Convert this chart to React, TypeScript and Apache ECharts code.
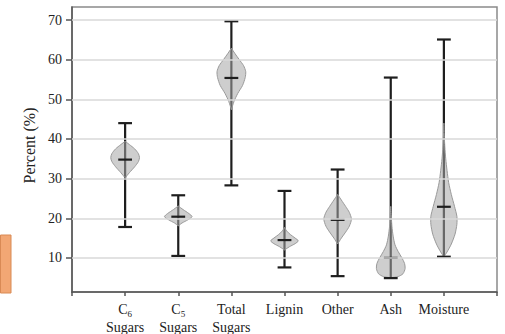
import React, { useEffect, useRef } from "react";
import * as echarts from "echarts";

const categories = ["C6 Sugars", "C5 Sugars", "Total Sugars", "Lignin", "Other", "Ash", "Moisture"];
const categoryLabels = [
  "{n|C}{s|6}\n{n|Sugars}",
  "{n|C}{s|5}\n{n|Sugars}",
  "{n|Total}\n{n|Sugars}",
  "{n|Lignin}",
  "{n|Other}",
  "{n|Ash}",
  "{n|Moisture}",
];
const yTicks = [10, 20, 30, 40, 50, 60, 70];
const mins = [17.8, 10.5, 28.3, 7.6, 5.4, 4.9, 10.3];
const maxs = [44.0, 25.8, 69.7, 26.9, 32.3, 55.5, 65.1];
const medians = [34.8, 20.4, 55.4, 14.5, 19.6, 10.0, 22.9];
// violin outline: [value, half-width in category units]
const violinC6 = [[30.2, 0], [31.5, 0.08], [33, 0.18], [34.3, 0.25], [35.3, 0.27], [36.3, 0.25], [37.5, 0.18], [38.6, 0.08], [39.4, 0]];
const violinC5 = [[18.1, 0], [18.8, 0.07], [19.6, 0.18], [20.4, 0.26], [21.2, 0.2], [22.2, 0.09], [23.1, 0]];
const violinTotal = [[47.4, 0], [49.5, 0.05], [51.5, 0.12], [53.5, 0.21], [55.5, 0.26], [57, 0.27], [58.5, 0.23], [60, 0.15], [61.5, 0.07], [62.9, 0]];
const violinLignin = [[12.0, 0], [12.8, 0.09], [13.6, 0.2], [14.3, 0.26], [15.0, 0.2], [15.9, 0.11], [16.8, 0.04], [17.7, 0]];
const violinOther = [[13.5, 0], [15, 0.07], [16.5, 0.15], [18, 0.22], [19.8, 0.26], [21.5, 0.22], [23, 0.15], [24.6, 0.07], [26, 0]];
const violinAsh = [[5.0, 0], [5.3, 0.14], [6.0, 0.23], [7.3, 0.27], [8.6, 0.26], [10.0, 0.21], [11.6, 0.14], [13.3, 0.08], [15.5, 0.045], [18, 0.022], [21, 0.008], [23, 0]];
const violinMoisture = [[10.3, 0], [11.5, 0.06], [13.5, 0.14], [16, 0.21], [18.5, 0.245], [20.5, 0.245], [23, 0.2], [26, 0.14], [29, 0.09], [32, 0.06], [35, 0.035], [38, 0.018], [41, 0.007], [44, 0]];
const violins = [violinC6, violinC5, violinTotal, violinLignin, violinOther, violinAsh, violinMoisture];

const FONT = '"Liberation Serif", "Times New Roman", serif';

export default function App() {
  const ref = useRef<HTMLDivElement>(null);
  useEffect(() => {
    if (!ref.current) return;
    const chart = echarts.init(ref.current, undefined, { renderer: "svg" });
    const capHalf = 0.13;
    const data = categories.map((_, i) => [i + 1, mins[i], maxs[i], medians[i]]);
    chart.setOption({
      animation: false,
      backgroundColor: "#ffffff",
      grid: {
        left: 72,
        top: 7,
        right: 8,
        bottom: 41,
        show: true,
        borderColor: "#8a8a8a",
        borderWidth: 1.5,
        backgroundColor: "transparent",
      },
      graphic: [
        {
          type: "rect",
          shape: { x: 0.5, y: 235, width: 10.5, height: 58 },
          style: { fill: "#f2a774", stroke: "#d98a55", lineWidth: 1 },
        },
      ],
      xAxis: {
        type: "value",
        min: 0,
        max: 8,
        axisLine: { show: true, lineStyle: { color: "#555", width: 1.5 } },
        axisTick: { show: true, length: 4, customValues: [0, 1, 2, 3, 4, 5, 6, 7, 8], lineStyle: { color: "#555", width: 1.5 } },
        splitLine: { show: false },
        axisLabel: {
          customValues: [1, 2, 3, 4, 5, 6, 7],
          margin: 8,
          formatter: (v: number) => categoryLabels[Math.round(v) - 1] || "",
          rich: {
            n: { fontFamily: FONT, fontSize: 14, color: "#222", lineHeight: 18 },
            s: { fontFamily: FONT, fontSize: 9, color: "#222", lineHeight: 10, verticalAlign: "bottom" },
          },
        },
      },
      yAxis: {
        type: "value",
        min: 1.4,
        max: 73.3,
        name: "Percent (%)",
        nameLocation: "middle",
        nameGap: 23,
        nameTextStyle: { fontFamily: FONT, fontSize: 16, color: "#222", padding: [0, 0, 0, 8] },
        axisLine: { show: true, lineStyle: { color: "#555", width: 1.5 } },
        axisTick: { show: true, length: 6, customValues: yTicks, lineStyle: { color: "#555", width: 1.5 } },
        splitLine: { show: false },
        axisLabel: {
          customValues: yTicks,
          margin: 10,
          fontFamily: FONT,
          fontSize: 14,
          color: "#222",
        },
      },
      series: [
        {
          type: "line",
          data: [],
          silent: true,
          z: 1,
          markLine: {
            silent: true,
            symbol: "none",
            label: { show: false },
            lineStyle: { color: "#d9d9d9", width: 1.5, type: "solid" },
            data: yTicks.map((t) => ({ yAxis: t })),
          },
        },
        {
          type: "custom",
          z: 3,
          data,
          encode: { x: 0, y: [1, 2] },
          renderItem: (params: any, api: any) => {
            const i = params.dataIndex;
            const x = i + 1;
            const prof = violins[i];
            const right = prof.map(([v, w]) => api.coord([x + w, v]));
            const left = prof.slice().reverse().map(([v, w]) => api.coord([x - w, v]));
            const pts = right.concat(left);
            const seg = (x1: number, y1: number, x2: number, y2: number) => {
              const a = api.coord([x1, y1]);
              const b = api.coord([x2, y2]);
              return {
                type: "line",
                shape: { x1: a[0], y1: a[1], x2: b[0], y2: b[1] },
                style: { stroke: "#1e1e1e", lineWidth: 2.2 },
              };
            };
            return {
              type: "group",
              children: [
                seg(x, mins[i], x, maxs[i]),
                {
                  type: "polygon",
                  shape: { points: pts, smooth: 0.25 },
                  style: { fill: "rgba(165,165,165,0.55)", stroke: "#9a9a9a", lineWidth: 1 },
                },
                seg(x - capHalf, mins[i], x + capHalf, mins[i]),
                seg(x - capHalf, maxs[i], x + capHalf, maxs[i]),
                seg(x - capHalf, medians[i], x + capHalf, medians[i]),
              ],
            };
          },
        },
      ],
    });
    return () => chart.dispose();
  }, []);
  return (
    <div
      ref={ref}
      style={{ position: "fixed", left: 0, top: 0, width: 505, height: 334 }}
    />
  );
}
